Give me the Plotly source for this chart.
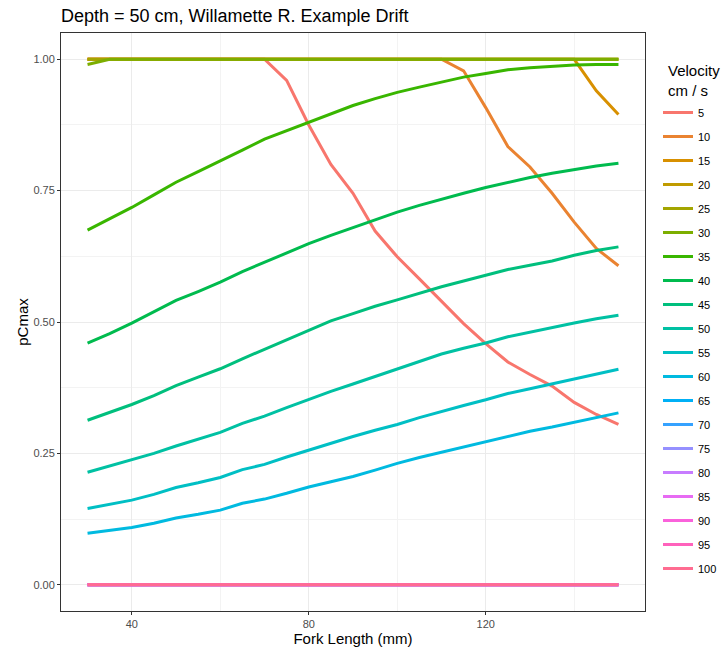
import plotly.graph_objects as go

fork_length = list(range(30, 155, 5))
velocities = [5, 10, 15, 20, 25, 30, 35, 40, 45, 50, 55, 60, 65, 70, 75, 80, 85, 90, 95, 100]
colors = ["#F8766D", "#EA8331", "#D89000", "#C09B00", "#A3A500", "#7CAE00", "#39B600",
          "#00BB4E", "#00BF7D", "#00C1A3", "#00BFC4", "#00BAE0", "#00B0F6", "#35A2FF",
          "#9590FF", "#C77CFF", "#E76BF3", "#FA62DB", "#FF62BC", "#FF6C91"]

v5 = [1, 1, 1, 1, 1, 1, 1, 1, 1, 0.96, 0.875, 0.80, 0.745, 0.673, 0.624, 0.582, 0.54,
      0.497, 0.459, 0.424, 0.40, 0.378, 0.347, 0.324, 0.305]
v10 = [1] * 17 + [0.978, 0.908, 0.834, 0.795, 0.745, 0.69, 0.64, 0.607]
v15 = [1] * 23 + [0.94, 0.895]
v20 = [1] * 25
v25 = [1] * 25
v30 = [0.99] + [1] * 24
v35 = [0.675, 0.697, 0.718, 0.742, 0.766, 0.786, 0.806, 0.827, 0.848, 0.864, 0.88, 0.897,
       0.912, 0.925, 0.937, 0.947, 0.957, 0.966, 0.973, 0.98, 0.984, 0.987, 0.989, 0.99, 0.99]
v40 = [0.46, 0.478, 0.498, 0.52, 0.541, 0.558, 0.576, 0.596, 0.614, 0.632, 0.649, 0.665,
       0.68, 0.694, 0.709, 0.722, 0.734, 0.745, 0.756, 0.766, 0.775, 0.783, 0.79, 0.797, 0.802]
v45 = [0.313, 0.328, 0.343, 0.36, 0.379, 0.395, 0.411, 0.43, 0.448, 0.467, 0.485, 0.502,
       0.516, 0.53, 0.542, 0.555, 0.567, 0.578, 0.589, 0.6, 0.608, 0.616, 0.627, 0.636, 0.643]
v50 = [0.214, 0.226, 0.237, 0.25, 0.264, 0.277, 0.29, 0.307, 0.321, 0.337, 0.353, 0.368,
       0.382, 0.396, 0.41, 0.425, 0.439, 0.45, 0.46, 0.472, 0.481, 0.489, 0.498, 0.506, 0.513]
v55 = [0.145, 0.153, 0.161, 0.172, 0.185, 0.194, 0.204, 0.219, 0.229, 0.243, 0.256, 0.27,
       0.282, 0.294, 0.305, 0.318, 0.33, 0.341, 0.352, 0.364, 0.373, 0.382, 0.392, 0.401, 0.41]
v60 = [0.098, 0.104, 0.109, 0.117, 0.127, 0.134, 0.142, 0.155, 0.163, 0.174, 0.186, 0.196,
       0.206, 0.218, 0.231, 0.242, 0.252, 0.262, 0.272, 0.283, 0.292, 0.3, 0.309, 0.318, 0.327]
v_zero = [0] * 25

series = [v5, v10, v15, v20, v25, v30, v35, v40, v45, v50, v55, v60] + [v_zero] * 8

W, H = 722, 648
L, R, T, B = 61, 77, 33, 37

fig = go.Figure()
for vel, col, ys in zip(velocities, colors, series):
    fig.add_trace(go.Scatter(
        x=fork_length, y=ys, mode="lines", name=str(vel),
        line=dict(color=col, width=3), legendgroup=str(vel),
    ))

axis_common = dict(
    showgrid=True, gridcolor="#EBEBEB", gridwidth=1,
    zeroline=False, showline=True, linecolor="#333333", linewidth=1, mirror=True,
    ticks="outside", ticklen=3, tickcolor="#333333",
    tickfont=dict(family="Liberation Sans, Arial", size=11, color="#4D4D4D"),
)

fig.update_layout(
    width=W, height=H,
    margin=dict(l=L, r=R, t=T, b=B, autoexpand=False),
    paper_bgcolor="white", plot_bgcolor="white",
    font=dict(family="Liberation Sans, Arial", color="black"),
    title=dict(text="Depth = 50 cm, Willamette R. Example Drift", x=61 / W, xanchor="left",
               y=1 - 15.5 / H, yanchor="middle", font=dict(size=18, color="black")),
    xaxis=dict(range=[24, 156], tickvals=[40, 80, 120],
               title=dict(text="Fork Length (mm)", font=dict(size=15), standoff=2),
               minor=dict(tickvals=[60, 100, 140], showgrid=True, gridcolor="#F3F3F3", gridwidth=0.6, ticks=""),
               **axis_common),
    yaxis=dict(range=[-0.05, 1.05], tickvals=[0, 0.25, 0.5, 0.75, 1.0],
               ticktext=["0.00", "0.25", "0.50", "0.75", "1.00"],
               title=dict(text="pCmax", font=dict(size=15), standoff=1),
               minor=dict(tickvals=[0.125, 0.375, 0.625, 0.875], showgrid=True, gridcolor="#F3F3F3", gridwidth=0.6, ticks=""),
               **axis_common),
    legend=dict(x=(658 - L) / (W - L - R), xanchor="left",
                y=1 - (98 - T) / (H - T - B), yanchor="top",
                font=dict(size=11), tracegroupgap=5, itemwidth=30,
                bgcolor="rgba(0,0,0,0)"),
    annotations=[dict(text="Velocity<br>cm / s", xref="paper", yref="paper",
                      x=(666 - L) / (W - L - R), xanchor="left",
                      y=1 + (T - 60) / (H - T - B), yanchor="top",
                      showarrow=False, align="left", font=dict(size=15, color="black"))],
)

fig.write_html("out.html", config={"displayModeBar": False},
               post_script="document.body.style.margin='0';document.body.style.padding='0';")
